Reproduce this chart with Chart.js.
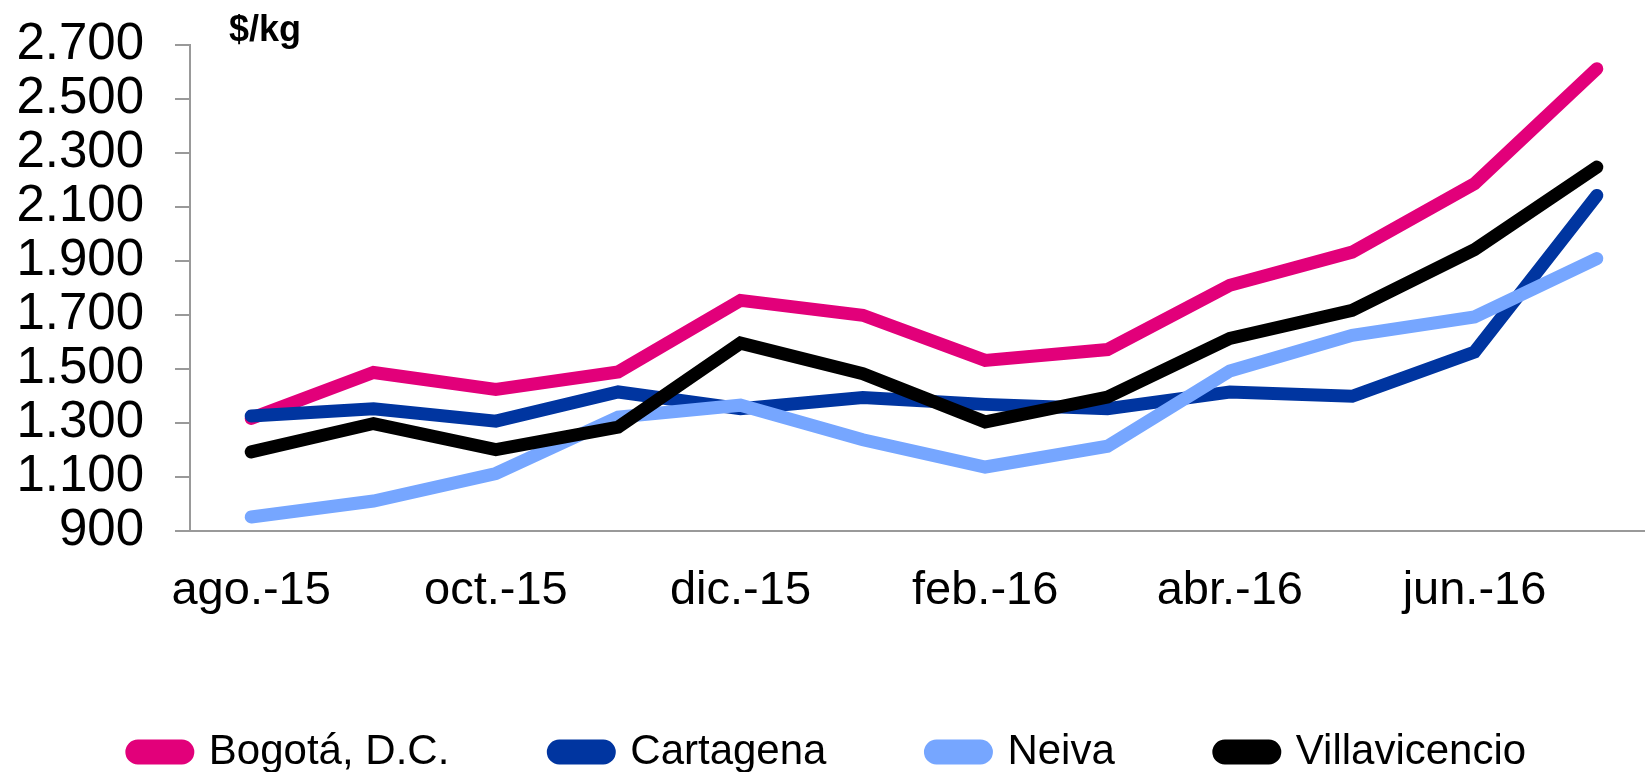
<!DOCTYPE html>
<html>
<head>
<meta charset="utf-8">
<script src="https://cdn.jsdelivr.net/npm/chart.js@4.4.1/dist/chart.umd.min.js"></script>
<style>
  html, body { margin: 0; padding: 0; background: #ffffff; overflow: hidden; }
  #wrap { position: absolute; left: 0; top: 0; width: 1665px; height: 783px; }
</style>
</head>
<body>
<div id="wrap"><canvas id="c" width="1665" height="783"></canvas></div>
<script>
const categories = ['ago.-15','sep.-15','oct.-15','nov.-15','dic.-15','ene.-16','feb.-16','mar.-16','abr.-16','may.-16','jun.-16','jul.-16'];
const bogota        = [1317, 1487, 1424, 1489, 1754, 1699, 1532, 1572, 1810, 1933, 2186, 2612];
const cartagena     = [1326, 1353, 1307, 1415, 1353, 1394, 1369, 1353, 1415, 1399, 1563, 2143];
const neiva         = [ 952, 1011, 1113, 1322, 1366, 1238, 1137, 1214, 1493, 1625, 1693, 1909];
const villavicencio = [1193, 1298, 1201, 1285, 1596, 1483, 1304, 1396, 1613, 1717, 1942, 2248];
const seriesNames = ['Bogotá, D.C.', 'Cartagena', 'Neiva', 'Villavicencio'];
const unitLabel = '$/kg';
const yMin = 900, yMax = 2700, yStep = 200;

const FONT = '"Liberation Sans", Arial, Helvetica, sans-serif';
const fmt = v => String(v).replace(/\B(?=(\d{3})+(?!\d))/g, '.');

const unitPlugin = {
  id: 'unitLabel',
  afterDraw(chart) {
    const ctx = chart.ctx;
    ctx.save();
    ctx.font = 'bold 36px ' + FONT;
    ctx.fillStyle = '#000';
    ctx.textBaseline = 'alphabetic';
    ctx.textAlign = 'left';
    ctx.fillText(unitLabel, chart.chartArea.left + 39, 41);
    ctx.restore();
  }
};

function ds(label, data, color, order) {
  return {
    label, data, order,
    borderColor: color, backgroundColor: color,
    borderWidth: 13, pointRadius: 0, pointHoverRadius: 0,
    tension: 0, borderCapStyle: 'round', borderJoinStyle: 'miter', fill: false
  };
}

new Chart(document.getElementById('c'), {
  type: 'line',
  data: {
    labels: categories,
    datasets: [
      ds(seriesNames[0], bogota, '#E2007A', 4),
      ds(seriesNames[1], cartagena, '#0035A0', 3),
      ds(seriesNames[2], neiva, '#76A6FF', 2),
      ds(seriesNames[3], villavicencio, '#000000', 1)
    ]
  },
  options: {
    responsive: false,
    animation: false,
    devicePixelRatio: 1,
    layout: { padding: { top: 45, right: 7, left: 0, bottom: 0 } },
    plugins: {
      tooltip: { enabled: false },
      legend: {
        position: 'bottom',
        labels: {
          font: { family: FONT, size: 42 },
          color: '#000',
          boxWidth: 56,
          boxHeight: 12,
          useBorderRadius: true,
          borderRadius: 6,
          padding: 104,
          sort: (a, b) => a.datasetIndex - b.datasetIndex
        }
      }
    },
    scales: {
      x: {
        offset: true,
        grid: { display: false },
        border: { display: true, color: '#999999', width: 2 },
        ticks: {
          autoSkip: false, maxRotation: 0, minRotation: 0,
          font: { family: FONT, size: 47 }, color: '#000', padding: 24,
          callback: function(v, i) { return i % 2 === 0 ? this.getLabelForValue(v) : ''; }
        },
        afterFit: s => { s.height = 96; }
      },
      y: {
        min: yMin, max: yMax,
        grid: { display: true, drawOnChartArea: false, drawTicks: true, tickLength: 15, color: '#999999', lineWidth: 2 },
        border: { display: true, color: '#999999', width: 2 },
        ticks: {
          stepSize: yStep, autoSkip: false,
          font: { family: FONT, size: 51 }, color: '#000', padding: 31,
          callback: v => fmt(v)
        },
        afterFit: s => { s.width = 190; s.paddingTop = 0; s.paddingBottom = 0; }
      }
    }
  },
  plugins: [unitPlugin]
});
</script>
</body>
</html>
